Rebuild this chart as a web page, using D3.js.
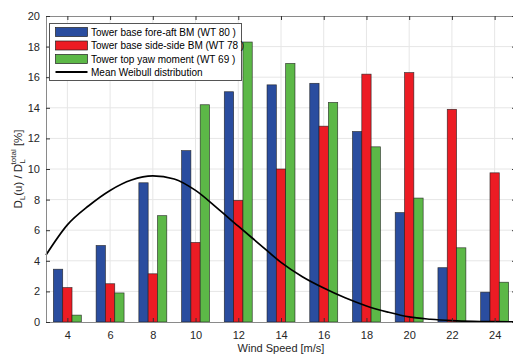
<!DOCTYPE html>
<html>
<head>
<meta charset="utf-8">
<script src="https://cdn.jsdelivr.net/npm/d3@7"></script>
<style>
  body { margin: 0; background: #fff; }
  svg { display: block; font-family: "Liberation Sans", Arial, sans-serif; }
  .tick text { fill: #262626; font-size: 11px; }
  .legend text { fill: #000; font-size: 10px; }
</style>
</head>
<body>
<div id="chart"></div>
<script>
"use strict"

// wind speed bins [m/s]
const windSpeeds = [4, 6, 8, 10, 12, 14, 16, 18, 20, 22, 24];
const foreAft = [3.45, 5.0, 9.1, 11.2, 15.05, 15.5, 15.6, 12.45, 7.15, 3.55, 1.95];
const sideSide = [2.25, 2.5, 3.15, 5.2, 7.95, 10.0, 12.8, 16.2, 16.3, 13.9, 9.75];
const yawMoment = [0.45, 1.9, 6.95, 14.2, 18.3, 16.9, 14.35, 11.45, 8.1, 4.85, 2.6];

// mean weibull distribution
const weibullWind = [3, 4, 5, 6, 7, 8, 9, 10, 11, 12, 13, 14, 15, 16, 17, 18, 19, 20, 21, 22, 23, 24, 25];
const weibullVal = [4.38, 6.35, 7.6, 8.6, 9.28, 9.55, 9.35, 8.6, 7.46, 6.26, 5.08, 3.9, 2.96, 2.22, 1.58, 1.05, 0.65, 0.33, 0.18, 0.09, 0.04, 0.02, 0.01];

const xTicks = windSpeeds;
const yTicks = [0, 2, 4, 6, 8, 10, 12, 14, 16, 18, 20];

const seriesNames = ["Tower base fore-aft BM (WT 80 )", "Tower base side-side BM (WT 78 )", "Tower top yaw moment (WT 69 )"];
const seriesColors = ["#2a4d9f", "#ec1c24", "#5cb847"];
const series = [foreAft, sideSide, yawMoment];

const totalWidth = 513, totalHeight = 354;
const margin = { left: 46, right: -3, top: 16, bottom: 32 };
const width = totalWidth - margin.left - margin.right;
const height = totalHeight - margin.top - margin.bottom;

const svg = d3.select("#chart").append("svg")
	.attr("width", totalWidth)
	.attr("height", totalHeight);

const g = svg.append("g")
	.attr("transform", `translate(${margin.left},${margin.top})`);

const xScale = d3.scaleLinear().domain([3, 25]).range([0, width]);
const yScale = d3.scaleLinear().domain([0, 20]).range([height, 0]);

// grid
g.append("g").selectAll("line.gx")
	.data(xTicks).enter().append("line")
		.attr("x1", d => xScale(d)).attr("x2", d => xScale(d))
		.attr("y1", 0).attr("y2", height)
		.attr("stroke", "#e6e6e6").attr("stroke-width", 1);
g.append("g").selectAll("line.gy")
	.data(yTicks.slice(1, -1)).enter().append("line")
		.attr("x1", 0).attr("x2", width)
		.attr("y1", d => yScale(d)).attr("y2", d => yScale(d))
		.attr("stroke", "#e6e6e6").attr("stroke-width", 1);

// grouped bars
const unit = xScale(2) - xScale(0);
const barW = unit * 0.218;
series.forEach((vals, si) => {
	g.append("g").selectAll("rect")
		.data(vals).enter().append("rect")
			.attr("x", (d, i) => xScale(windSpeeds[i]) + (si - 1.5) * barW)
			.attr("y", d => yScale(d))
			.attr("width", barW)
			.attr("height", d => yScale(0) - yScale(d))
			.attr("fill", seriesColors[si])
			.attr("stroke", "#1a1a1a")
			.attr("stroke-opacity", 0.8)
			.attr("stroke-width", 0.7);
});

// weibull line
const line = d3.line()
	.x((d, i) => xScale(weibullWind[i]))
	.y(d => yScale(d))
	.curve(d3.curveMonotoneX);
g.append("path")
	.datum(weibullVal)
	.attr("d", line)
	.attr("fill", "none")
	.attr("stroke", "#000")
	.attr("stroke-width", 1.7);

// axes
const axisColor = "#8a8a8a";
const xAxis = g.append("g")
	.attr("transform", `translate(0,${height})`)
	.call(d3.axisBottom(xScale).tickValues(xTicks).tickSizeInner(-4).tickSizeOuter(0).tickPadding(9));
const xTop = g.append("g")
	.call(d3.axisTop(xScale).tickValues(xTicks).tickSizeInner(-4).tickSizeOuter(0).tickFormat(""));
const yAxis = g.append("g")
	.call(d3.axisLeft(yScale).tickValues(yTicks).tickSizeInner(-4).tickSizeOuter(0).tickPadding(6));
const yRight = g.append("g")
	.attr("transform", `translate(${width},0)`)
	.call(d3.axisRight(yScale).tickValues(yTicks).tickSizeInner(-4).tickSizeOuter(0).tickFormat(""));
[xAxis, xTop, yAxis, yRight].forEach(a => {
	a.select(".domain").attr("stroke", axisColor).attr("stroke-width", 1);
	a.selectAll(".tick line").attr("stroke", "#333");
});
xAxis.selectAll(".tick text").attr("dy", "0.71em");

// axis labels
svg.append("text")
	.attr("x", margin.left + xScale(14))
	.attr("y", 352)
	.attr("text-anchor", "middle")
	.attr("fill", "#262626")
	.style("font-size", "11px")
	.text("Wind Speed [m/s]");

const yl = svg.append("text")
	.attr("transform", `translate(22,${margin.top + yScale(10)}) rotate(-90)`)
	.attr("text-anchor", "middle")
	.attr("fill", "#262626")
	.style("font-size", "11.5px");
yl.append("tspan").text("D");
yl.append("tspan").attr("dy", 3).style("font-size", "8px").text("L");
yl.append("tspan").attr("dy", -3).text("(u) / D");
yl.append("tspan").attr("dy", 3).style("font-size", "8px").text("L");
yl.append("tspan").attr("dx", -5).attr("dy", -9).style("font-size", "8px").text("total");
yl.append("tspan").attr("dy", 6).text(" [%]");

// legend
const legend = svg.append("g").attr("class", "legend");
legend.append("rect")
	.attr("x", 49.5).attr("y", 23.5)
	.attr("width", 192).attr("height", 57)
	.attr("fill", "#fff").attr("stroke", "#555").attr("stroke-width", 1);
const rowY = [32, 45.5, 59, 72];
seriesNames.forEach((name, i) => {
	legend.append("rect")
		.attr("x", 55.5).attr("y", rowY[i] - 4.5)
		.attr("width", 32).attr("height", 9)
		.attr("fill", seriesColors[i]).attr("stroke", "#222").attr("stroke-width", 0.7);
	legend.append("text")
		.attr("x", 91).attr("y", rowY[i]).attr("dy", "0.35em")
		.text(name);
});
legend.append("line")
	.attr("x1", 55.5).attr("x2", 87.5)
	.attr("y1", rowY[3]).attr("y2", rowY[3])
	.attr("stroke", "#000").attr("stroke-width", 2);
legend.append("text")
	.attr("x", 91).attr("y", rowY[3]).attr("dy", "0.35em")
	.text("Mean Weibull distribution");
</script>
</body>
</html>
